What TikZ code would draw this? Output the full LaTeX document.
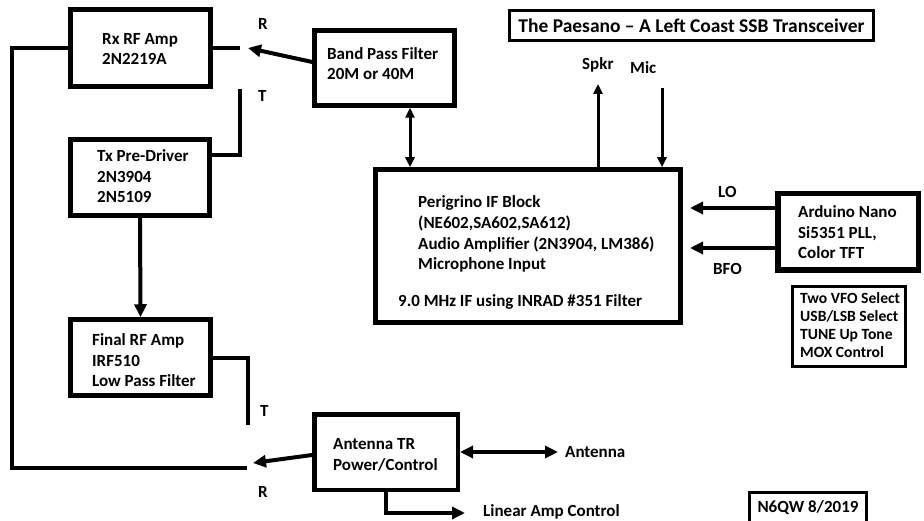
\documentclass[tikz,border=0pt]{standalone}
\usepackage{fontspec}
\setmainfont{Carlito}
\usetikzlibrary{arrows.meta}
\tikzset{
  tbox/.style={draw, line width=4.5pt, inner sep=0pt},
  sbox/.style={draw, line width=3pt, inner sep=0pt},
  txt/.style={font=\fontsize{17}{20.8}\selectfont\bfseries, inner sep=0pt, align=left, anchor=base west},
  stxt/.style={font=\fontsize{15.6}{18.3}\selectfont\bfseries, inner sep=0pt, align=left, anchor=base west},
  conn/.style={line width=4pt},
  thinconn/.style={line width=3pt},
  bigtip/.tip={Triangle[length=13pt,width=12pt]},
  smalltip/.tip={Triangle[length=10pt,width=9pt]}
}
\begin{document}
\begin{tikzpicture}[x=1pt,y=-1pt]
\clip (0,0) rectangle (924,521);
\fill[white] (0,0) rectangle (924,521);

% boxes
\node[tbox, minimum width=140pt, minimum height=77pt] (rx) at (140.5,48) {};
\node[tbox, minimum width=139pt, minimum height=76pt] (tx) at (140,177.5) {};
\node[tbox, minimum width=140pt, minimum height=76pt] (fin) at (140.5,357.5) {};
\node[tbox, minimum width=140pt, minimum height=75pt] (bpf) at (384.5,68) {};
\node[tbox, minimum width=305pt, minimum height=153pt] (ifb) at (528,246) {};
\node[tbox, line width=5.5pt, minimum width=140.5pt, minimum height=76.5pt] (ard) at (848,232) {};
\node[sbox, minimum width=113pt, minimum height=80pt] (opt) at (849,326.5) {};
\node[tbox, minimum width=143.5pt, minimum height=75.5pt] (ant) at (386,452) {};
\node[sbox, minimum width=364pt, minimum height=30pt, font=\fontsize{19.5}{22}\selectfont\bfseries] (title) at (691.5,25.5) {The Paesano -- A Left Coast SSB Transceiver};
\node[sbox, minimum width=117pt, minimum height=31pt, font=\fontsize{17}{20}\selectfont\bfseries] (call) at (808,507.5) {N6QW 8/2019};

% box texts (anchored at the baseline of the last line)
\node[txt] (rxt) at (102,65) {Rx RF Amp\\2N2219A};
\node[txt] (txt1) at (97,203) {Tx Pre-Driver\\2N3904\\2N5109};
\node[txt] (fint) at (92,387) {Final RF Amp\\IRF510\\Low Pass Filter};
\node[txt] (bpft) at (327,80) {Band Pass Filter\\20M or 40M};
\node[txt] (ift) at (418,270) {Perigrino IF Block\\(NE602,SA602,SA612)\\Audio Amplifier (2N3904, LM386)\\Microphone Input};
\node[txt] (iff) at (398,307) {9.0 MHz IF using INRAD \#351 Filter};
\node[txt] (ardt) at (798,259) {Arduino Nano\\Si5351 PLL,\\Color TFT};
\node[stxt] (optt) at (800,358) {Two VFO Select\\USB/LSB Select\\TUNE Up Tone\\MOX Control};
\node[txt] (antt) at (333,470) {Antenna TR\\Power/Control};

% labels
\node[txt] (lR1) at (258,30) {R};
\node[txt] (lT1) at (258,102) {T};
\node[txt] (lT2) at (260,417) {T};
\node[txt] (lR2) at (258,497) {R};
\node[txt] (lspk) at (582,70) {Spkr};
\node[txt] (lmic) at (630,74) {Mic};
\node[txt] (llo) at (718,198) {LO};
\node[txt] (lbfo) at (713,275) {BFO};
\node[txt] (lant) at (565,457) {Antenna};
\node[txt] (llin) at (483,516) {Linear Amp Control};

% coordinates
\coordinate (rxR) at (240,48);
\coordinate (rxL) at (247,468);
\coordinate (txT) at (240,89);
\coordinate (txTc) at (240,155);
\coordinate (fT) at (248,358);
\coordinate (fTe) at (248,425);
\coordinate (bpfR) at (248,48);
\coordinate (x410) at (410,0);
\coordinate (spk) at (598,84);
\coordinate (mic) at (662,88);
\coordinate (loE) at (690,208);
\coordinate (bfoE) at (690,248);
\coordinate (antR) at (253,463);
\coordinate (antA) at (558,452);
\coordinate (lin) at (465,513);

% connectors
\draw[conn] (rx.east) -- (rxR);
\draw[conn] (rx.west) -- ++(-56,0) |- (rxL);
\draw[conn] (txT) -- (txTc) -- (tx.east |- txTc);
\draw[conn, -bigtip] (tx.south) -- (fin.north);
\draw[conn] (fin.east |- fT) -- (fT) -- (fTe);
\draw[conn, -bigtip] ([yshift=6pt]bpf.west) -- (bpfR);
\draw[thinconn, smalltip-smalltip] (bpf.south -| x410) -- (ifb.north -| x410);
\draw[thinconn, -smalltip] (ifb.north -| spk) -- (spk);
\draw[thinconn, -smalltip] (mic) -- (ifb.north -| mic);
\draw[conn, -bigtip] (ard.west |- loE) -- (loE);
\draw[conn, -bigtip] (ard.west |- bfoE) -- (bfoE);
\draw[conn, -bigtip] ([yshift=-3pt]ant.west) -- (antR);
\draw[conn, bigtip-bigtip] (ant.east) -- (antA);
\draw[conn, -bigtip] (ant.south) |- (lin);
\end{tikzpicture}
\end{document}
